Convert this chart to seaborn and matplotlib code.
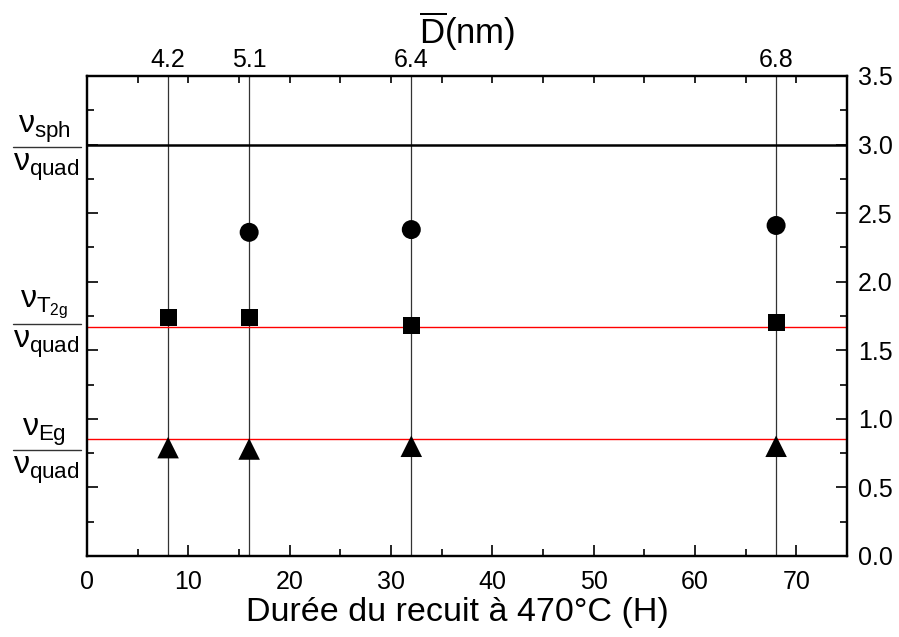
import pandas as pd
import matplotlib.pyplot as plt
import matplotlib.transforms as mtransforms
import seaborn as sns

# data
anneal_h = [8, 16, 32, 68]
diam_nm = ['4.2', '5.1', '6.4', '6.8']
sph_x = [16, 32, 68]
sph_ratio = [2.36, 2.38, 2.41]
t2g_x = [8, 16, 32, 68]
t2g_ratio = [1.74, 1.74, 1.68, 1.70]
eg_x = [8, 16, 32, 68]
eg_ratio = [0.79, 0.78, 0.80, 0.80]
ref_sph = 3.0
ref_t2g = 1.67
ref_eg = 0.85

df = pd.DataFrame({
    'x': sph_x + t2g_x + eg_x,
    'y': sph_ratio + t2g_ratio + eg_ratio,
    'mode': ['sph'] * len(sph_x) + ['T2g'] * len(t2g_x) + ['Eg'] * len(eg_x),
})

sns.set_style('ticks')
plt.rcParams['font.family'] = ['Liberation Sans', 'DejaVu Sans']
plt.rcParams['mathtext.fontset'] = 'custom'
plt.rcParams['mathtext.rm'] = 'Liberation Sans'
plt.rcParams['mathtext.it'] = 'Liberation Sans'
plt.rcParams['mathtext.bf'] = 'Liberation Sans:bold'
for key in ['text.color', 'axes.labelcolor', 'xtick.color', 'ytick.color',
            'axes.edgecolor']:
    plt.rcParams[key] = 'black'

fig = plt.figure(figsize=(8.99, 6.37), dpi=100)
ax = fig.add_axes([0.0968, 0.1272, 0.8454, 0.7535])

# vertical guides at each annealing time
for xv in anneal_h:
    ax.axvline(xv, color='#333333', lw=0.9, zorder=1)

ax.axhline(ref_sph, color='black', lw=1.8, zorder=1)
ax.axhline(ref_t2g, color='red', lw=1.0, zorder=1)
ax.axhline(ref_eg, color='red', lw=1.0, zorder=1)

sns.scatterplot(data=df, x='x', y='y', style='mode', size='mode',
                markers={'sph': 'o', 'T2g': 's', 'Eg': '^'},
                sizes={'sph': 187, 'T2g': 150, 'Eg': 240},
                color='black', edgecolor='black', linewidth=0,
                legend=False, ax=ax, zorder=3)

ax.set_xlim(0, 75)
ax.set_ylim(0, 3.5)
ax.set_xticks(range(0, 71, 10))
ax.set_xticks(range(5, 76, 10), minor=True)
ax.set_yticks([i * 0.5 for i in range(8)])
ax.set_yticks([0.25 + i * 0.5 for i in range(7)], minor=True)
ax.set_yticklabels([f'{i * 0.5:.1f}' for i in range(8)])
ax.tick_params(which='both', direction='in', left=True, right=True,
               labelleft=False, labelright=True, width=1.2, labelsize=18,
               top=False)
ax.tick_params(which='major', length=8)
ax.tick_params(axis='x', which='major', pad=10)
ax.tick_params(axis='y', which='major', pad=8)
ax.tick_params(which='minor', length=5)
ax.set_xlabel('Durée du recuit à 470°C (H)', fontsize=24.5)
ax.xaxis.set_label_coords(0.487, -0.085)
ax.set_ylabel('')
for sp in ax.spines.values():
    sp.set_linewidth(1.6)

# top axis: mean diameter
top = ax.twiny()
top.set_xlim(ax.get_xlim())
top.set_xticks(anneal_h)
top.set_xticklabels(diam_nm)
top.set_xticks(range(5, 75, 5), minor=True)
top.tick_params(which='major', length=0, pad=3, labelsize=18)
top.tick_params(which='minor', direction='in', length=5, width=1.2)
top.set_xlabel(r'$\overline{\mathrm{D}}$(nm)', fontsize=25, labelpad=3)
for sp in top.spines.values():
    sp.set_linewidth(1.6)

# left-hand ratio labels drawn as fractions
trans = mtransforms.blended_transform_factory(ax.transAxes, ax.transData)
frac_labels = [(r'$\nu_{\mathrm{sph}}$', 2.98),
               (r'$\nu_{\mathrm{T_{2g}}}$', 1.69),
               (r'$\nu_{\mathrm{Eg}}$', 0.77)]
for num, yv in frac_labels:
    ax.plot([-0.098, -0.008], [yv, yv], color='#333333', lw=1.0,
            transform=trans, clip_on=False)
    ax.text(-0.056, yv + 0.02, num, transform=trans, ha='center',
            va='bottom', fontsize=23)
    ax.text(-0.054, yv - 0.03, r'$\nu_{\mathrm{quad}}$', transform=trans,
            ha='center', va='top', fontsize=23)

plt.savefig('out.png', dpi=100)
plt.close()
